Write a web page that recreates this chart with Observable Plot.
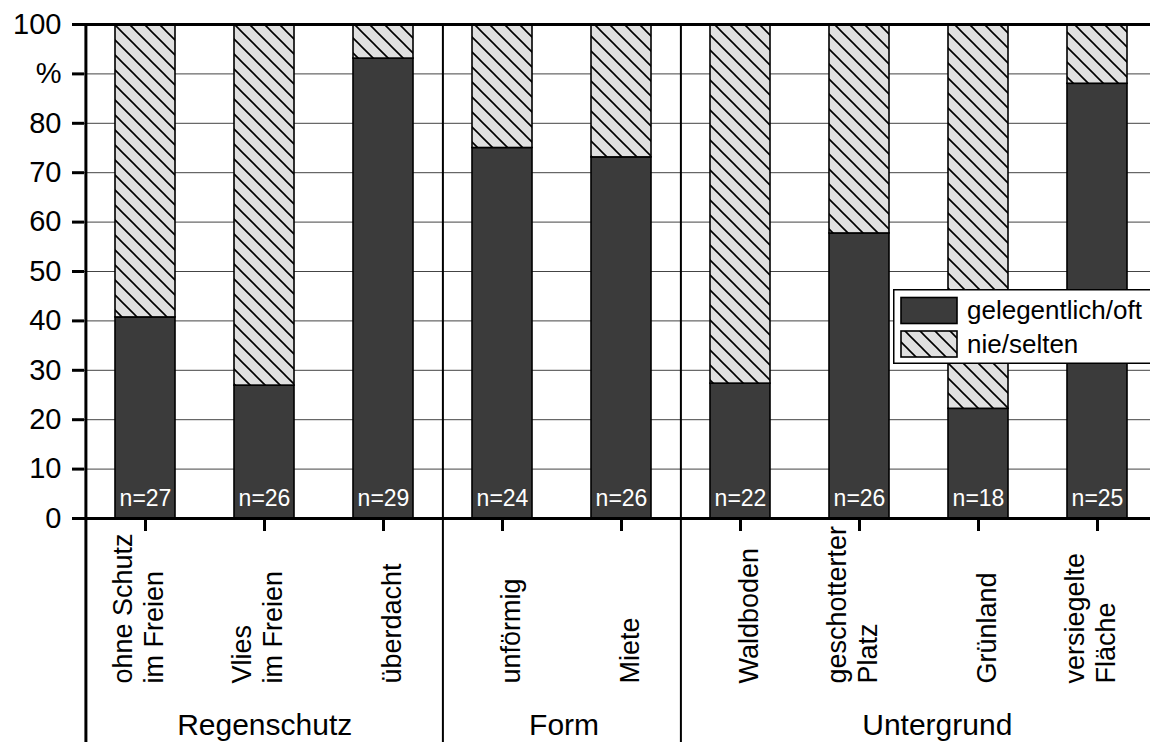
<!DOCTYPE html>
<html>
<head>
<meta charset="utf-8">
<script src="https://cdn.jsdelivr.net/npm/d3@7"></script>
<script src="https://cdn.jsdelivr.net/npm/@observablehq/plot@0.6"></script>
<style>
  html, body { margin: 0; padding: 0; background: #fff; overflow: hidden; }
  #wrap { position: relative; width: 1150px; height: 742px; }
  #legend { position: absolute; left: 893px; top: 289px; }
</style>
</head>
<body>
<div id="wrap"></div>
<script>
// ---- data ----
const categories = [
  "ohne Schutz\nim Freien", "Vlies\nim Freien", "überdacht",
  "unförmig", "Miete",
  "Waldboden", "geschotterter\nPlatz", "Grünland", "versiegelte\nFläche"
];
const shareOften = [40.7, 26.9, 93.1, 75.0, 73.1, 27.3, 57.7, 22.2, 88.0]; // gelegentlich/oft (%)
const sampleSize = [27, 26, 29, 24, 26, 22, 26, 18, 25];
const seriesNames = ["gelegentlich/oft", "nie/selten"];
const groupNames = ["Regenschutz", "Form", "Untergrund"];
const groupMembers = [[0, 1, 2], [3, 4], [5, 6, 7, 8]];
const groupStarts = [0, 3, 5]; // index of first category in each group
const yTicks = [0, 10, 20, 30, 40, 50, 60, 70, 80, 90, 100];

// ---- derived tables ----
const rows = categories.map((c, i) => ({cat: c, often: shareOften[i], n: sampleSize[i]}));

// ---- layout ----
const W = 1150, H = 742;
const mL = 84, mT = 24, mB = 224;
const xRange = [84.2, 1157];
const step = (xRange[1] - xRange[0]) / categories.length;
const plotH = H - mT - mB;
const yBottomValue = -100 * mB / plotH; // value at the very bottom of the SVG
const tickLenValue = 13 * 100 / plotH;

const DARK = "#3b3b3b";
const font = "'Liberation Sans', Arial, Helvetica, sans-serif";
const groupExtraDx = [0, 2, 18];

// group labels: anchored at the first member, shifted to the centre of the group's bars
const groupMarks = groupNames.map((name, i) => {
  const m = groupMembers[i];
  const centreShift = (m.length - 1) / 2 * step + groupExtraDx[i];
  return Plot.text([name], {x: () => categories[m[0]], text: d => d, dx: centreShift,
    frameAnchor: "bottom", dy: 216, fontSize: 30, fill: "black", lineAnchor: "bottom"});
});

const chart = Plot.plot({
  width: W, height: H,
  marginLeft: mL, marginRight: 0, marginTop: mT, marginBottom: mB,
  style: {fontFamily: font, background: "white", color: "black", overflow: "visible"},
  x: {type: "band", domain: categories, range: xRange, paddingInner: 0.5, paddingOuter: 0.25, axis: null},
  y: {domain: [0, 100], axis: null},
  marks: [
    Plot.gridY({ticks: yTicks.filter(d => d > 0 && d < 100), stroke: "#444", strokeOpacity: 1, strokeWidth: 1}),
    // stacked bars
    Plot.barY(rows, {x: "cat", y1: 0, y2: "often", fill: DARK, stroke: "black", strokeWidth: 1.6, inset: 0}),
    Plot.barY(rows, {x: "cat", y1: "often", y2: 100, fill: "url(#hatch)", stroke: "black", strokeWidth: 1.6, inset: 0}),
    // frame lines
    Plot.ruleY([100], {strokeWidth: 3}),
    Plot.ruleY([0], {strokeWidth: 3}),
    Plot.ruleX([categories[0]], {x: d => d, dx: -step / 2, y1: 100, y2: yBottomValue, strokeWidth: 3}),
    Plot.ruleX(groupStarts.slice(1).map(i => categories[i]), {x: d => d, dx: -step / 2, y1: 100, y2: yBottomValue, strokeWidth: 2}),
    // y axis
    Plot.axisY({ticks: yTicks, tickFormat: d => d === 90 ? "%" : d, tickSize: 12, tickPadding: 11,
      fontSize: 29, label: null, strokeWidth: 3}),
    // x ticks
    Plot.ruleX(categories, {x: d => d, y1: 0, y2: -tickLenValue, strokeWidth: 3}),
    // x labels (rotated, two lines)
    Plot.text(categories, {x: d => d, frameAnchor: "bottom", dy: 165, dx: 17, rotate: -90, textAnchor: "start",
      fontSize: 27, lineHeight: 1.12, fill: "black"}),
    // n labels
    Plot.text(rows, {x: "cat", y: 0, text: d => "n=" + d.n, fill: "white", fontSize: 23, dy: -13, lineAnchor: "bottom"}),
    ...groupMarks
  ]
});

// hatch pattern
d3.select(chart).insert("defs", ":first-child").html(`
  <pattern id="hatch" patternUnits="userSpaceOnUse" width="15" height="15">
    <rect width="15" height="15" fill="#e0e0e0"/>
    <path d="M-2,-2 L17,17 M-2,13 L2,17 M13,-2 L17,2" stroke="#000" stroke-width="1.6"/>
  </pattern>`);

const wrap = document.getElementById("wrap");
wrap.appendChild(chart);

// legend overlay
const lg = d3.select(wrap).append("svg").attr("id", "legend").attr("width", 260).attr("height", 76)
  .style("font-family", font);
lg.append("defs").html(`
  <pattern id="hatchL" patternUnits="userSpaceOnUse" width="15" height="15">
    <rect width="15" height="15" fill="#e0e0e0"/>
    <path d="M-2,-2 L17,17 M-2,13 L2,17 M13,-2 L17,2" stroke="#000" stroke-width="1.6"/>
  </pattern>`);
lg.append("rect").attr("x", 0.75).attr("y", 0.75).attr("width", 300).attr("height", 73.5)
  .attr("fill", "white").attr("stroke", "black").attr("stroke-width", 1.5);
const legendFills = [DARK, "url(#hatchL)"];
seriesNames.forEach((s, i) => {
  lg.append("rect").attr("x", 8).attr("y", 8.5 + i * 33.5).attr("width", 56).attr("height", 26)
    .attr("fill", legendFills[i]).attr("stroke", "black").attr("stroke-width", 1.6);
  lg.append("text").attr("x", 74).attr("y", 30 + i * 33.5).attr("font-size", 26).text(s);
});
</script>
</body>
</html>
